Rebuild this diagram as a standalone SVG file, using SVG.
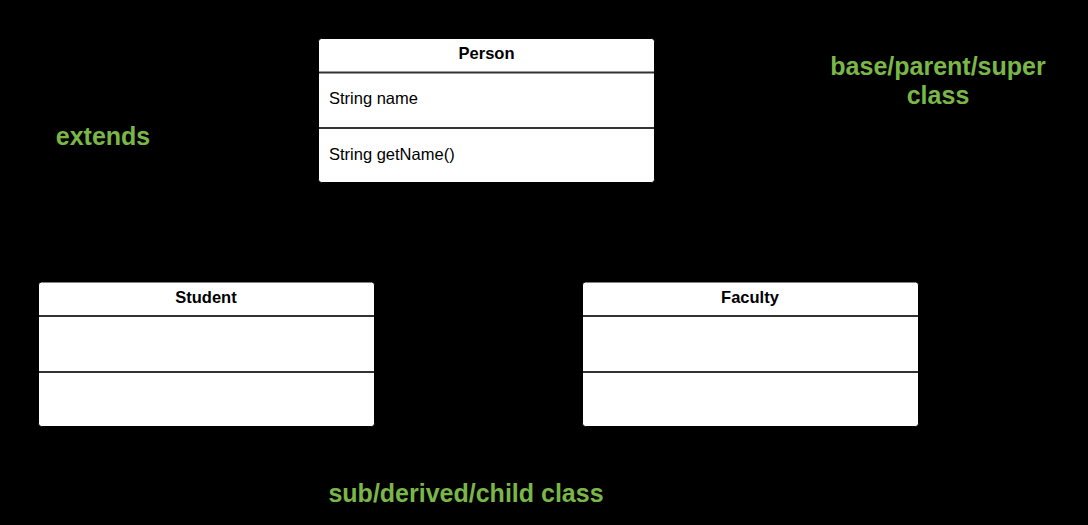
<svg xmlns="http://www.w3.org/2000/svg" width="1088" height="525" viewBox="0 0 1088 525">
<style>
.box{fill:#ffffff;stroke:#000000;stroke-width:1}
.div{stroke:#333333;stroke-width:2}
.title{font-family:"Liberation Sans",Arial,sans-serif;font-size:16.5px;font-weight:bold;fill:#000000;text-anchor:middle}
.member{font-family:"Liberation Sans",Arial,sans-serif;font-size:16.5px;fill:#000000}
.note{font-family:"Liberation Sans",Arial,sans-serif;font-size:25px;font-weight:bold;fill:#7AB648;text-anchor:middle}
</style>
<rect x="0" y="0" width="1088" height="525" fill="#000000"/>
<g id="connectors"></g>
<g id="person">
<rect class="box" x="318.5" y="38.5" width="336" height="144" rx="3"/>
<line class="div" x1="319" y1="72.5" x2="654" y2="72.5"/>
<line class="div" x1="319" y1="128" x2="654" y2="128"/>
<text class="title" x="486.5" y="59">Person</text>
<text class="member" x="329" y="104">String name</text>
<text class="member" x="329" y="160">String getName()</text>
</g>
<g id="student">
<rect class="box" x="38.5" y="282" width="336" height="144.5" rx="3"/>
<line class="div" x1="39" y1="316" x2="374" y2="316"/>
<line class="div" x1="39" y1="372" x2="374" y2="372"/>
<text class="title" x="206" y="303">Student</text>
</g>
<g id="faculty">
<rect class="box" x="582.5" y="282" width="336" height="144.5" rx="3"/>
<line class="div" x1="583" y1="316" x2="918" y2="316"/>
<line class="div" x1="583" y1="372" x2="918" y2="372"/>
<text class="title" x="750" y="303">Faculty</text>
</g>
<g id="labels">
<text class="note" x="103" y="145">extends</text>
<text class="note" x="938" y="75">base/parent/super</text>
<text class="note" x="938" y="104">class</text>
<text class="note" x="466" y="502">sub/derived/child class</text>
</g>
</svg>
